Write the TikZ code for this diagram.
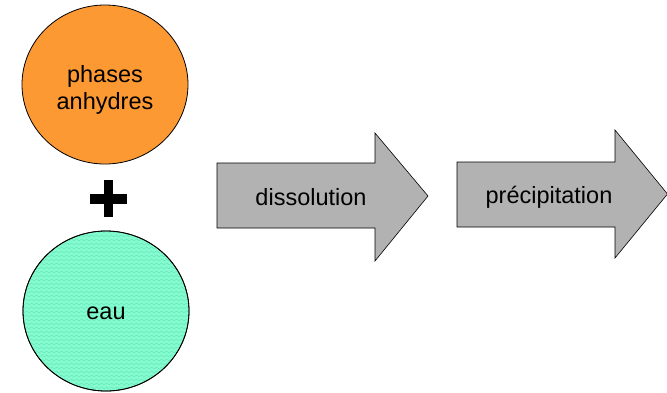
\documentclass[tikz,border=0pt]{standalone}
\usepackage{fontspec}
\setmainfont{Liberation Sans}
\usetikzlibrary{shapes.geometric,decorations.pathmorphing}
\definecolor{orangefill}{RGB}{253,153,51}
\definecolor{mintfill}{RGB}{132,252,208}
\definecolor{mintwave}{RGB}{104,232,186}
\definecolor{arrowgray}{RGB}{178,178,178}
\tikzset{
  bubble/.style={ellipse, draw=black, line width=0.8pt, inner sep=0pt},
  bigarrow/.style={draw=black, line width=0.6pt, fill=arrowgray, line join=miter},
  label/.style={font=\fontsize{23.5}{27}\selectfont, text=black, inner sep=0pt},
}
\begin{document}
\begin{tikzpicture}[x=1pt,y=-1pt]
\useasboundingbox (0,0) rectangle (667,392);
\clip (0,0) rectangle (667,392);
% phases anhydres
\node[bubble, fill=orangefill, minimum width=166pt, minimum height=159pt] (anh) at (105,84.5) {};
\node[label, anchor=base] (anhtxt) at (105,82) {phases};
\node[label, anchor=base] (anhtxt2) at (105,109) {anhydres};
% plus
\fill[black] (90,194) rectangle (126.5,204);
\fill[black] (104,180) rectangle (113,217);
% eau
\node[bubble, fill=mintfill, minimum width=166pt, minimum height=160pt] (eau) at (106,311) {};
\begin{scope}
  \clip (106,311) ellipse [x radius=82.5pt, y radius=79.5pt];
  \foreach \yy in {232,236,...,392}
    \draw[mintwave, line width=0.5pt, decorate, decoration={snake, segment length=5pt, amplitude=1pt}] (20,\yy) -- (192,\yy);
\end{scope}
\draw[black, line width=0.8pt] (106,311) ellipse [x radius=83pt, y radius=80pt];
\node[label, anchor=base] (eautxt) at (106,319) {eau};
% arrow 1
\draw[bigarrow] (217,163) -- (375,163) -- (375,133) -- (428,196) -- (375,261) -- (375,228) -- (217,228) -- cycle;
\node[label, anchor=base] (diss) at (311,205) {dissolution};
% arrow 2
\draw[bigarrow] (457,162) -- (615,162) -- (615,130) -- (667.5,194) -- (615,258) -- (615,227) -- (457,227) -- cycle;
\node[label, anchor=base] (prec) at (549,203) {précipitation};
\end{tikzpicture}
\end{document}
